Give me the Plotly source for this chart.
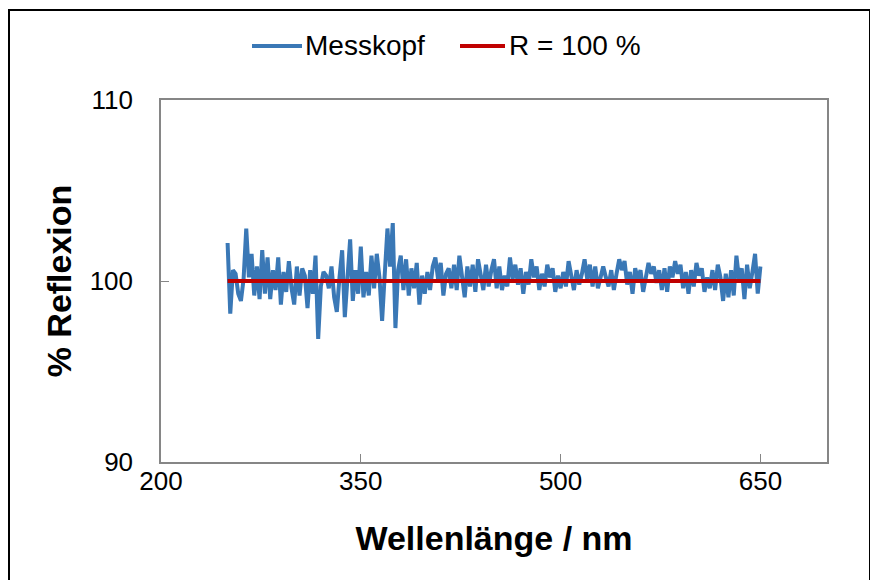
import plotly.graph_objects as go

wavelength = list(range(250, 652, 2))
messkopf = [
    102.1, 98.2, 100.6, 100.4, 99.3, 98.9, 100.1, 102.9, 100.2, 101.5,
    99.2, 100.8, 99.0, 101.7, 99.3, 101.3, 99.0, 100.6, 99.5, 101.3,
    98.7, 100.5, 99.4, 101.1, 99.6, 98.7, 100.8, 99.2, 100.7, 100.3,
    98.5, 100.6, 99.3, 101.4, 96.8, 99.7, 100.5, 100.3, 99.6, 100.8,
    99.1, 98.3, 100.2, 101.7, 98.0, 100.4, 102.3, 98.9, 100.6, 99.3,
    101.9, 99.1, 100.5, 99.2, 101.4, 99.6, 101.5, 100.2, 97.8, 100.4,
    102.9, 100.8, 103.2, 97.4, 100.6, 101.4, 99.5, 101.2, 99.2, 100.7,
    99.6, 101.0, 98.7, 100.3, 99.3, 100.5, 99.5, 100.8, 101.3, 100.1,
    101.0, 99.2, 100.4, 100.7, 99.6, 100.9, 99.5, 101.4, 100.3, 99.1,
    100.8, 99.7, 100.9, 99.4, 101.2, 100.2, 99.5, 100.9, 99.7, 100.6,
    101.2, 99.6, 100.8, 99.5, 100.3, 99.7, 101.3, 100.1, 100.9, 99.8,
    100.7, 99.3, 100.5, 99.8, 101.2, 100.2, 100.8, 99.5, 100.4, 99.7,
    100.9, 100.2, 100.7, 99.4, 100.3, 99.6, 100.5, 99.7, 101.1, 100.3,
    99.5, 100.6, 99.8, 100.4, 101.2, 100.1, 100.9, 99.7, 100.8, 99.6,
    100.3, 100.8, 100.2, 99.7, 100.6, 99.5, 100.4, 101.2, 100.6, 101.1,
    99.8, 100.5, 99.3, 100.7, 100.1, 100.6, 99.4, 100.2, 101.0, 100.4,
    100.8, 99.9, 100.6, 99.5, 100.7, 99.4, 100.8, 100.2, 101.1, 100.4,
    100.9, 99.6, 100.5, 99.3, 100.6, 99.7, 101.0, 100.3, 100.7, 99.4,
    100.2, 99.6, 100.6, 99.5, 100.9, 100.2, 98.9, 100.4, 99.1, 100.6,
    99.2, 101.4, 100.1, 100.7, 99.0, 100.9, 99.6, 100.5, 101.5, 99.3,
    100.8,
]
ref_x = [250, 650]
ref_y = [100, 100]

x_ticks = [200, 350, 500, 650]
y_ticks = [90, 100, 110]

series_names = ["Messkopf", "R = 100 %"]
BLUE = "#3A78B6"
RED = "#C00000"
FONT = "Liberation Sans, Arial, sans-serif"

fig = go.Figure()
fig.add_trace(go.Scatter(x=wavelength, y=messkopf, mode="lines", name=series_names[0],
                         line=dict(color=BLUE, width=4), showlegend=False))
fig.add_trace(go.Scatter(x=ref_x, y=ref_y, mode="lines", name=series_names[1],
                         line=dict(color=RED, width=4), showlegend=False))

# the page adds an 8px body margin, so figure coords = viewport - 8
OFF = 8
W, H = 870, 572
L, T = 161 - OFF, 100 - OFF
Rg, Bm = 827 - OFF, 462 - OFF
pw, ph = Rg - L, Bm - T


def px(vx):
    return (vx - OFF - L) / pw


def py(vy):
    return (Bm - (vy - OFF)) / ph


shapes = [
    dict(type="rect", xref="paper", yref="paper",
         x0=px(9), x1=px(870), y0=py(600), y1=py(10),
         line=dict(color="black", width=2), fillcolor="rgba(0,0,0,0)", layer="below"),
    dict(type="line", xref="paper", yref="paper", x0=px(252), x1=px(302), y0=py(46), y1=py(46),
         line=dict(color=BLUE, width=4)),
    dict(type="line", xref="paper", yref="paper", x0=px(460), x1=px(505), y0=py(46), y1=py(46),
         line=dict(color=RED, width=4)),
]
annotations = [
    dict(text=series_names[0], xref="paper", yref="paper", x=px(303), y=py(45),
         xanchor="left", yanchor="middle", showarrow=False, font=dict(size=28, family=FONT)),
    dict(text=series_names[1], xref="paper", yref="paper", x=px(507), y=py(45),
         xanchor="left", yanchor="middle", showarrow=False, font=dict(size=28, family=FONT)),
]

fig.update_layout(
    width=W, height=H,
    margin=dict(l=L, r=W - Rg, t=T, b=H - Bm),
    paper_bgcolor="white", plot_bgcolor="white",
    font=dict(family=FONT, color="black"),
    showlegend=False,
    xaxis=dict(range=[200, 700], tickvals=x_ticks, ticks="inside", ticklen=8,
               tickcolor="#868686", showline=True, linecolor="#868686", linewidth=1.5,
               mirror=True, showgrid=False, zeroline=False,
               tickfont=dict(size=26, family=FONT), ticklabelstandoff=-5,
               title=dict(text="<b>Wellenlänge / nm</b>", font=dict(size=34, family=FONT), standoff=31)),
    yaxis=dict(range=[90, 110], tickvals=y_ticks, ticks="inside", ticklen=8,
               tickcolor="#868686", showline=True, linecolor="#868686", linewidth=1.5,
               mirror=True, showgrid=False, zeroline=False,
               tickfont=dict(size=26, family=FONT), ticklabelstandoff=21,
               title=dict(text="<b>% Reflexion</b>", font=dict(size=34, family=FONT), standoff=8)),
    shapes=shapes,
    annotations=annotations,
)

fig.write_html("out.html")
